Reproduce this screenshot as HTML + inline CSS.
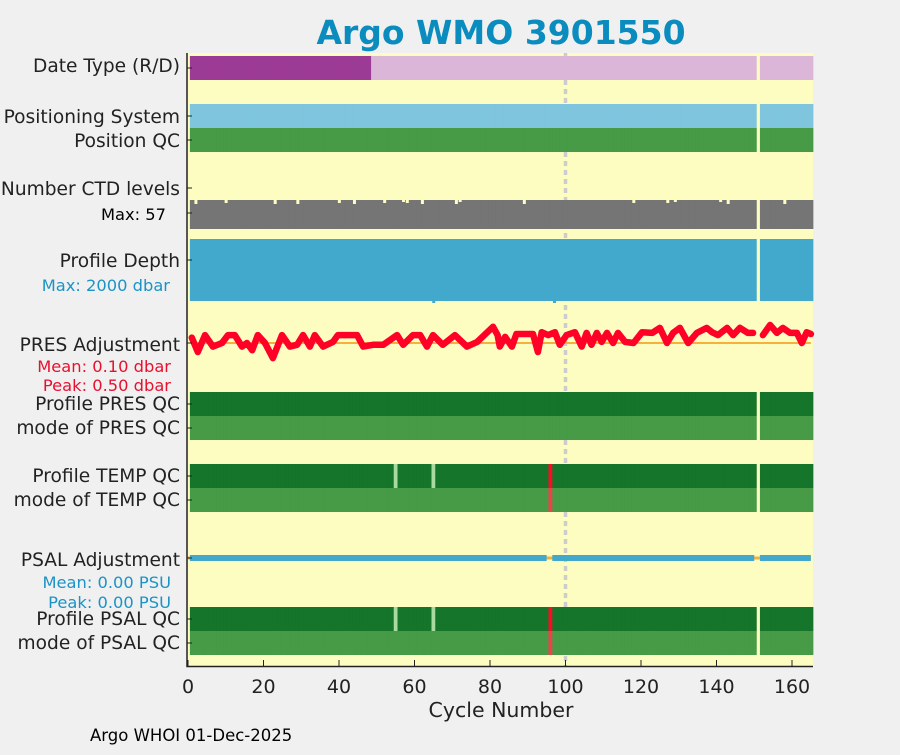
<!DOCTYPE html>
<html><head><meta charset="utf-8"><style>
body{margin:0;background:#f0f0f0;font-family:"Liberation Sans","DejaVu Sans",sans-serif}
svg text{font-family:"DejaVu Sans","Liberation Sans",sans-serif}
</style></head><body>
<svg id="c" width="900" height="750" xmlns="http://www.w3.org/2000/svg">
<rect width="900" height="750" fill="#f0f0f0"/>
<text x="501" y="44" text-anchor="middle" font-size="33" font-weight="bold" fill="#0a8cbf">Argo WMO 3901550</text>
<rect x="188" y="53" width="625" height="613" fill="#fdfdc2"/>
<g id="marks"></g>
<g font-size="18.6" fill="#222" text-anchor="end">
<text x="180" y="72">Date Type (R/D)</text>
<text x="180" y="123">Positioning System</text>
<text x="180" y="147">Position QC</text>
<text x="180" y="195">Number CTD levels</text>
<text x="166" y="220" font-size="16.3" fill="#000">Max: 57</text>
<text x="180" y="267">Profile Depth</text>
<text x="170" y="291" font-size="16.3" fill="#1b93c6">Max: 2000 dbar</text>
<text x="180" y="351">PRES Adjustment</text>
<text x="171" y="372" font-size="16.3" fill="#e8102f">Mean: 0.10 dbar</text>
<text x="171" y="391" font-size="16.3" fill="#e8102f">Peak: 0.50 dbar</text>
<text x="180" y="410">Profile PRES QC</text>
<text x="180" y="434">mode of PRES QC</text>
<text x="180" y="482">Profile TEMP QC</text>
<text x="180" y="506">mode of TEMP QC</text>
<text x="180" y="566">PSAL Adjustment</text>
<text x="171" y="588" font-size="16.3" fill="#1b93c6">Mean: 0.00 PSU</text>
<text x="171" y="608" font-size="16.3" fill="#1b93c6">Peak: 0.00 PSU</text>
<text x="180" y="625">Profile PSAL QC</text>
<text x="180" y="649">mode of PSAL QC</text>
</g>
<text x="501" y="717" text-anchor="middle" font-size="20.5" fill="#222">Cycle Number</text>
<text x="90" y="741" font-size="16.5" fill="#000">Argo WHOI 01-Dec-2025</text>
<g id="axes"></g>
</svg>
<script>
const ticks=[0,20,40,60,80,100,120,140,160];
const nCycles=165;
const missingCycles=[151];
const realtimeUntil=48;
const tempBadCycles=[96];
const tempPaleCycles=[55,65];
const psalBadCycles=[96];
const psalPaleCycles=[55,65];
const psalGapCycles=[96,151];
const ctdNotchCycles=[2,10,23,29,40,44,52,57,58,62,71,72,89,118,127,129,141,143,158];
const depthBumpCycles=[65,97];
const presCycles=[1,2.6,4.5,6.6,9,10.6,12.4,14.3,15.6,17,18.5,20.4,22.5,24.9,27,28.9,30.5,32.3,33.6,35.8,38.4,39.7,42.4,44.8,46.4,49,51.7,55.4,57,59.6,61.5,63.3,64.9,67.5,70.7,73.9,76.6,80.8,82,82.6,84,85.8,87,91.4,92.7,93.7,95.4,97.2,98.5,100.3,102.5,104.3,105.6,106.9,108.3,109.6,111,112.6,113.9,115.8,118,120.3,123,125,126.9,128.5,130.3,132.5,134.8,137.4,138.8,140.4,142.8,144.4,146.2,148.3,149.7,null,152.3,154.2,156,157.6,159.5,161.3,162.6,163.9,165];
const presAdj=[0.15,-0.25,0.22,-0.1,0,0.22,0.22,-0.1,0,-0.2,0.22,0,-0.42,0.22,-0.1,-0.05,0.22,-0.1,0.22,-0.1,0.03,0.22,0.22,0.22,-0.1,-0.05,-0.05,0.22,-0.05,0.22,0.22,-0.1,0.22,-0.05,0.22,-0.1,0.03,0.45,0.22,-0.1,0.17,-0.1,0.25,0.25,-0.25,0.3,0.22,0.3,-0.05,0.22,0.3,-0.1,0.28,-0.05,0.28,0.03,0.28,0,0.28,0.03,0,0.3,0.28,0.42,0,0.28,0.42,0,0.28,0.42,0.3,0.22,0.42,0.22,0.42,0.28,0.28,null,0.22,0.5,0.28,0.42,0.28,0.28,0,0.3,0.25];
const NS="http://www.w3.org/2000/svg";
const X0=188,PX=3.775;
const xs=c=>X0+PX*c;
const presY=v=>343-v*36;
const marks=document.getElementById('marks');
function mk(tag,a,parent){const e=document.createElementNS(NS,tag);for(const k in a)e.setAttribute(k,a[k]);(parent||marks).appendChild(e);return e;}
let dl=mk('line',{x1:xs(100),x2:xs(100),y1:53,y2:666,stroke:'#cccccc','stroke-width':3.5,'stroke-dasharray':'5 4'});


function row(name,y,h,colorFn){
  const g=mk('g',{});
  
  
  for(let c=1;c<=nCycles;c++){
    if(missingCycles.includes(c))continue;
    const col=colorFn(c); if(!col)continue;
    const r=mk('rect',{x:xs(c-0.5),y:y,width:PX+0.6,height:h,fill:col},g);
    
    
  }
}
row('date-type-row',56,24,c=>c<=realtimeUntil?'#9c3b96':'#dbb6d9');
row('positioning-system-row',104,24,c=>'#7fc5de');
row('position-qc-row',128,24,c=>'#479a46');
row('ctd-levels-row',200,29,c=>'#757575');
ctdNotchCycles.forEach(c=>{const r=mk('rect',{x:xs(c-0.3),y:200,width:3,height:2+(c%3),fill:'#fdfdc2'});

});
row('profile-depth-row',239,62,c=>'#42a9cc');
depthBumpCycles.forEach(c=>{const r=mk('rect',{x:xs(c-0.3),y:300,width:3,height:3,fill:'#42a9cc'});

});
let ob=mk('line',{x1:xs(1),x2:xs(165),y1:presY(0),y2:presY(0),stroke:'#f8b03c','stroke-width':2});


let d='',pen=false;
presCycles.forEach((c,i)=>{if(c===null){pen=false;return;}d+=(pen?'L':'M')+xs(c).toFixed(1)+' '+presY(presAdj[i]).toFixed(1);pen=true;});
let pl=mk('path',{d:d,fill:'none',stroke:'#ff0026','stroke-width':6.5,'stroke-linejoin':'round','stroke-linecap':'round'});


row('profile-pres-qc-row',392,24,c=>'#15752a');
row('mode-pres-qc-row',416,24,c=>'#479a46');
row('profile-temp-qc-row',464,24,c=>tempBadCycles.includes(c)?'#ff0a24':tempPaleCycles.includes(c)?'#a9dba0':'#15752a');
row('mode-temp-qc-row',488,24,c=>tempBadCycles.includes(c)?'#f2404a':'#479a46');
let ol=mk('line',{x1:X0,x2:xs(165),y1:558,y2:558,stroke:'#f8b03c','stroke-width':3});


let seg=[],start=1;
for(let c=1;c<=nCycles+1;c++){if(c>nCycles||psalGapCycles.includes(c)){if(c-1>=start)seg.push([start,c-1]);start=c+1;}}
seg.forEach(s=>{const r=mk('rect',{x:xs(s[0]-0.5),y:555,width:xs(s[1]-0.5)-xs(s[0]-0.5)+PX*0.5,height:6,fill:'#42a9cc'});

});
row('profile-psal-qc-row',607,24,c=>psalBadCycles.includes(c)?'#ff0a24':psalPaleCycles.includes(c)?'#a9dba0':'#15752a');
row('mode-psal-qc-row',631,24,c=>psalBadCycles.includes(c)?'#f2404a':'#479a46');
const ax=document.getElementById('axes');
let a1=mk('path',{d:'M187 53 V666.5 H813',fill:'none',stroke:'#222','stroke-width':1.5},ax);


[68,116,140,188,213,260,343,404,428,476,500,558,619,643].forEach(y=>{const t=mk('line',{x1:187,x2:192,y1:y,y2:y,stroke:'#222','stroke-width':1},ax);

});
ticks.forEach(v=>{const t=mk('line',{x1:xs(v),x2:xs(v),y1:666,y2:660,stroke:'#222','stroke-width':1},ax);


const l=mk('text',{x:xs(v),y:693,'text-anchor':'middle','font-size':19,fill:'#222'},ax);l.textContent=v;

});
</script>
</body></html>
